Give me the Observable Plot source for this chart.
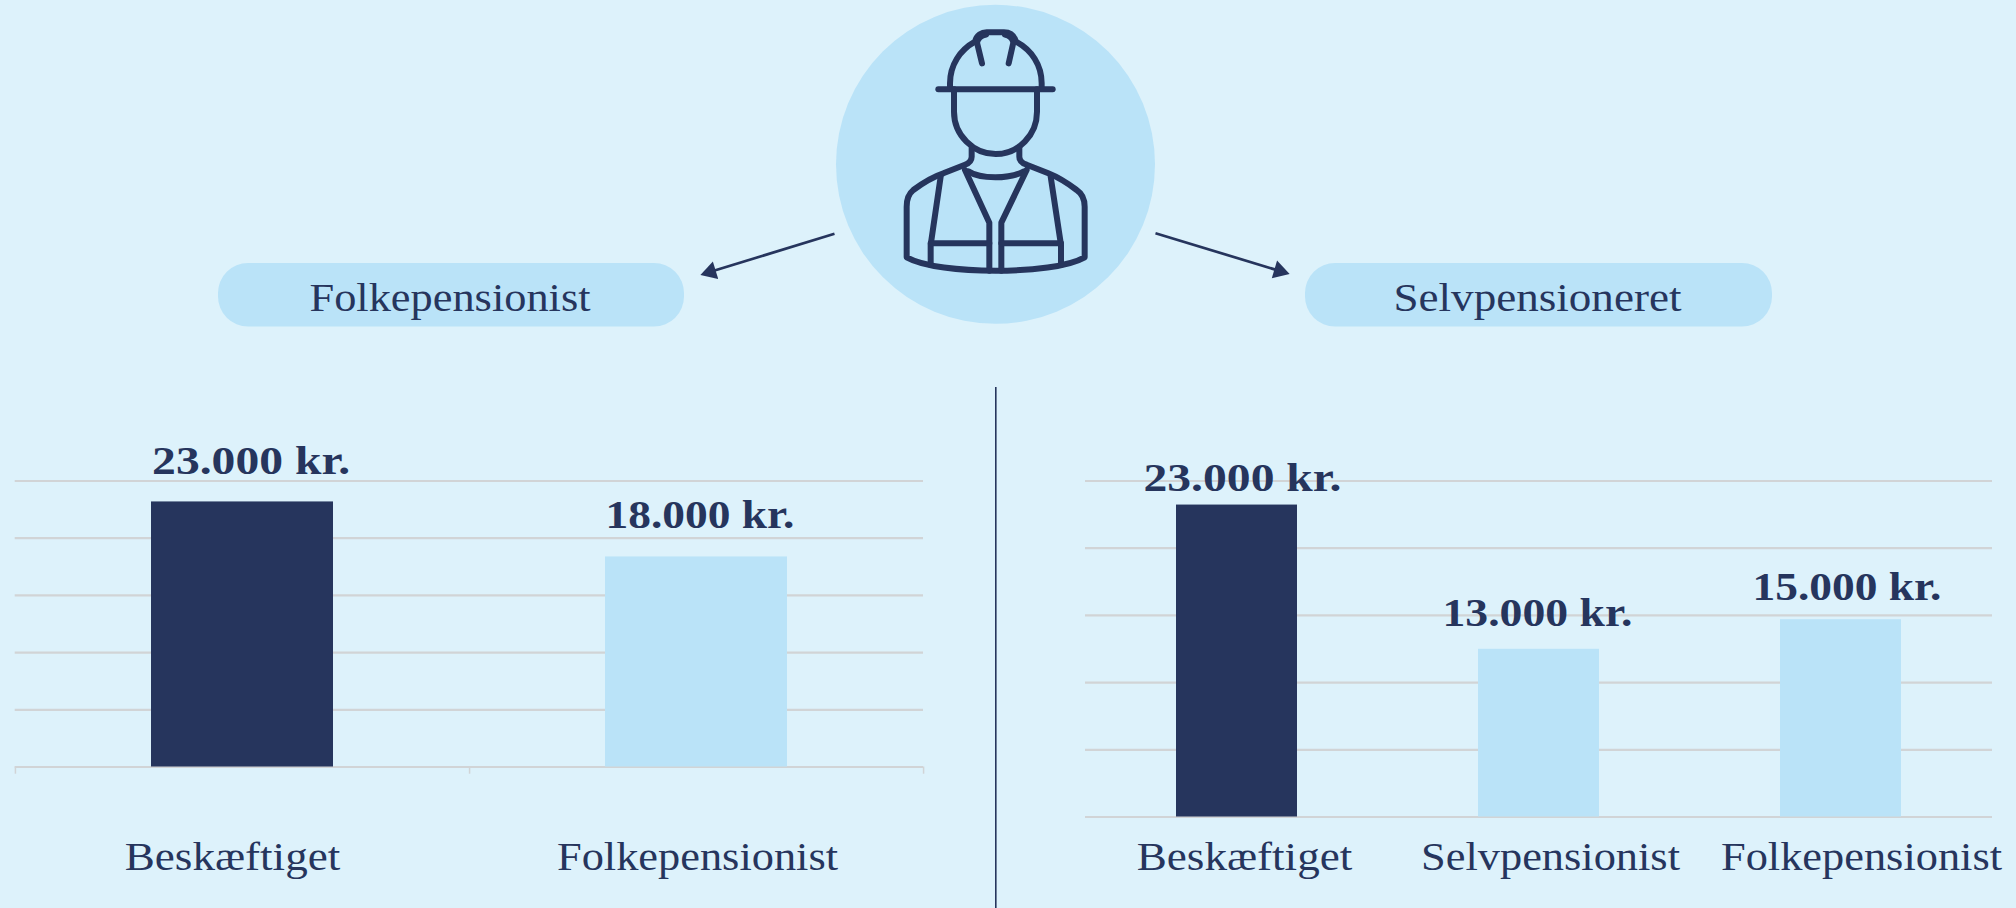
<!DOCTYPE html>
<html lang="da">
<head>
<meta charset="utf-8">
<script src="https://cdn.jsdelivr.net/npm/d3@7"></script>
<script src="https://cdn.jsdelivr.net/npm/@observablehq/plot@0.6"></script>
<style>
html,body{margin:0;padding:0;width:2016px;height:908px;overflow:hidden;background:#ddf2fb}
#page{position:relative;width:2016px;height:908px;overflow:hidden}
#page svg{position:absolute;background:transparent;overflow:visible}
</style>
</head>
<body>
<div id="page"></div>
<script>
const NAVY = "#26355d", LIGHT = "#bae3f8", GRID = "#d1d4d6";
const FONT = "'Liberation Serif', serif";

// Left chart
const leftCategories = ["Beskæftiget", "Folkepensionist"];
const leftValues = [23170, 18360];
const leftValueLabels = ["23.000 kr.", "18.000 kr."];
const leftValueDx = [8.6, 3.5];
const leftValueDy = [-28, -29];
const leftCatDx = [-10, 1];

// Right chart
const rightCategories = ["Beskæftiget", "Selvpensionist", "Folkepensionist"];
const rightValues = [23210, 12480, 14680];
const rightValueLabels = ["23.000 kr.", "13.000 kr.", "15.000 kr."];
const rightValueDx = [5.5, -1.5, 6];
const rightValueDy = [-14.3, -23.6, -19.7];
const rightCatDx = [7.5, 11.5, 20.5];

const gridTicks = [0, 5000, 10000, 15000, 20000, 25000];

// Header
const pillLabels = ["Folkepensionist", "Selvpensioneret"];

// The original typeface is wider than the installed serif: fit each label to its measured width.
const textWidths = new Map([
  ["Folkepensionist", 281], ["Selvpensioneret", 288], ["Beskæftiget", 215.5], ["Selvpensionist", 259],
  ["23.000 kr.", 198], ["18.000 kr.", 189], ["13.000 kr.", 190], ["15.000 kr.", 189]
]);
function fitText(svg) {
  svg.querySelectorAll("text").forEach(t => {
    const w = textWidths.get(t.textContent.trim());
    if (w) {
      t.setAttribute("textLength", w);
      t.setAttribute("lengthAdjust", "spacingAndGlyphs");
    }
  });
  return svg;
}

const CAT_BASELINE = 869;

function chart({left, width, top, plotTop, baseline, x0, x1, categories, values, labels, valueDx, valueDy, catDx, tickEdges}) {
  const data = categories.map((category, i) => ({category, value: values[i]}));
  const step = (x1 - x0) / categories.length;
  const marks = [
    Plot.ruleY(gridTicks, {stroke: GRID, strokeWidth: 2.2}),
  ];
  if (tickEdges) {
    const edges = [[categories[0], -step / 2], [categories[0], step / 2], [categories[1], step / 2]];
    edges.forEach(([c, dx]) => marks.push(
      Plot.ruleX([c], {x: d => d, y1: 0, y2: -630, dx, stroke: GRID, strokeWidth: 1.5})
    ));
  }
  marks.push(Plot.barY(data, {x: "category", y: "value", fill: "category"}));
  categories.forEach((c, i) => {
    marks.push(Plot.text([c], {
      x: d => d, y: () => 0, text: d => d, dx: catDx[i], dy: CAT_BASELINE - baseline,
      lineAnchor: "bottom", fontFamily: FONT, fontSize: 41, fill: NAVY
    }));
    marks.push(Plot.text([values[i]], {
      x: () => c, y: d => d, text: () => labels[i], dx: valueDx[i], dy: valueDy[i],
      lineAnchor: "bottom", fontFamily: FONT, fontWeight: 700, fontSize: 41, fill: NAVY
    }));
  });
  const svg = Plot.plot({
    width, height: 908 - top,
    marginLeft: x0 - left, marginRight: left + width - x1,
    marginTop: plotTop - top, marginBottom: 908 - baseline,
    style: {background: "transparent", overflow: "visible"},
    x: {axis: null, domain: categories, paddingInner: 0.6, paddingOuter: 0.3},
    y: {axis: null, domain: [0, 25000]},
    color: {domain: rightCategories, range: [NAVY, LIGHT, LIGHT]},
    marks
  });
  svg.style.left = left + "px";
  svg.style.top = top + "px";
  return fitText(svg);
}

const pillRows = [
  {label: pillLabels[0], a: 218, b: 684},
  {label: pillLabels[1], a: 1305, b: 1772}
];
const arrowRows = [
  {x1: 834, y1: 233.3, x2: 710, y2: 271.3, rot: -107},
  {x1: 1155, y1: 232.7, x2: 1279, y2: 270.4, rot: 106.7}
];

const header = fitText(Plot.plot({
  width: 2016, height: 908, margin: 0,
  style: {background: "transparent"},
  x: {axis: null, domain: [0, 2016], range: [0, 2016]},
  y: {axis: null, domain: [0, 908], range: [0, 908]},
  marks: [
    Plot.ruleX([995.3], {y1: 387, y2: 908, stroke: NAVY, strokeWidth: 1.6}),
    Plot.dot([{x: 995, y: 163.8}], {x: "x", y: "y", r: 159.5, fill: LIGHT}),
    Plot.rect(pillRows, {x1: "a", x2: "b", y1: () => 263, y2: () => 326.5, fill: LIGHT, rx: 30, ry: 30}),
    Plot.text(pillRows, {x: d => (d.a + d.b) / 2 - 1.5, y: () => 310, text: "label", lineAnchor: "bottom",
      fontFamily: FONT, fontSize: 41, fill: NAVY}),
    Plot.link(arrowRows, {x1: "x1", y1: "y1", x2: "x2", y2: "y2", stroke: NAVY, strokeWidth: 2.7}),
    Plot.dot(arrowRows, {x: "x2", y: "y2", symbol: "triangle", r: 6.8, rotate: "rot", fill: NAVY})
  ]
}));
header.style.left = "0px"; header.style.top = "0px";

const page = document.getElementById("page");
page.append(header);

// Worker icon (decoration)
const iconNS = "http://www.w3.org/2000/svg";
const icon = document.createElementNS(iconNS, "svg");
icon.setAttribute("viewBox", "0 0 1200 1020");
icon.setAttribute("width", 400); icon.setAttribute("height", 340);
icon.style.left = "800px"; icon.style.top = "0px";
const iconPaths = [
  "M450 262V250C450 195 480 150 525 125C530 105 545 97 560 97H612C628 97 642 105 648 125C695 150 725 195 725 250V262",
  "M531 128C533 117 545 107 558 104M531 128L546 190M640 128L626 190M640 128C638 117 628 107 615 104",
  "M415 268H758",
  "M462 268V335C462 405 520 462 587 462C655 462 711 405 711 335V268",
  "M515 445V470C515 485 505 490 495 494L430 520C400 530 360 555 340 570C325 582 320 600 320 620V772C370 800 480 812 587 812C695 812 805 800 854 772V620C854 600 848 582 830 570C810 555 770 530 745 520L680 494C668 490 658 483 658 470V445",
  "M505 514C540 538 630 538 672 514",
  "M495 510L568 668V812M680 510L604 668V812",
  "M422 530L392 735V795M752 530L783 735V795",
  "M392 730H568M604 730H783"
];
iconPaths.forEach(d => {
  const p = document.createElementNS(iconNS, "path");
  p.setAttribute("d", d);
  p.setAttribute("fill", "none");
  p.setAttribute("stroke", NAVY);
  p.setAttribute("stroke-width", 18);
  p.setAttribute("stroke-linecap", "round");
  p.setAttribute("stroke-linejoin", "round");
  icon.append(p);
});
page.append(icon);

page.append(chart({left: 0, width: 990, top: 400, plotTop: 480.5, baseline: 766.5, x0: 14.7, x1: 923,
  categories: leftCategories, values: leftValues, labels: leftValueLabels,
  valueDx: leftValueDx, valueDy: leftValueDy, catDx: leftCatDx, tickEdges: true}));
page.append(chart({left: 1000, width: 1016, top: 400, plotTop: 480.5, baseline: 816.5, x0: 1085, x1: 1992,
  categories: rightCategories, values: rightValues, labels: rightValueLabels,
  valueDx: rightValueDx, valueDy: rightValueDy, catDx: rightCatDx, tickEdges: false}));
</script>
</body>
</html>
